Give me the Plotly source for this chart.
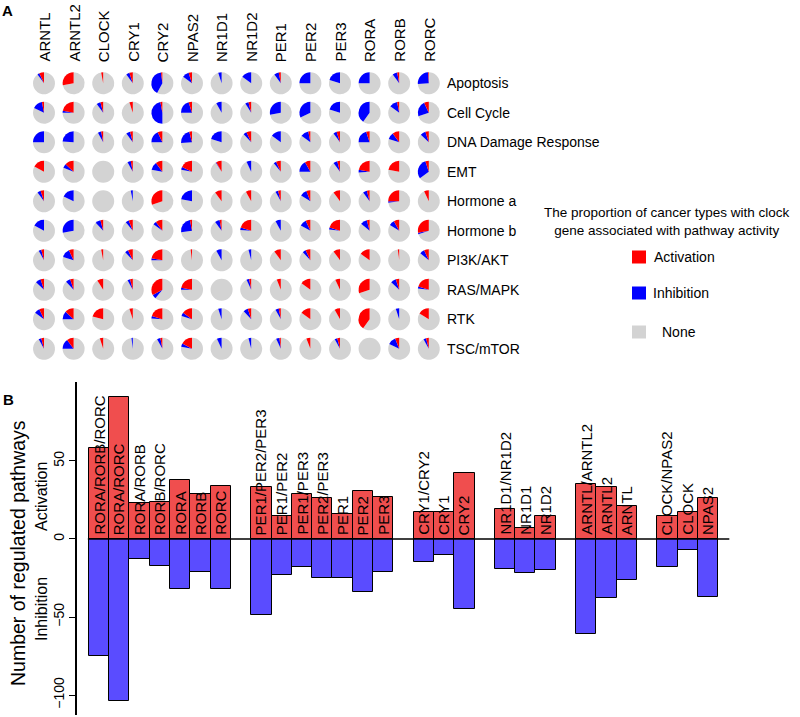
import plotly.graph_objects as go

# ---- panel A data: share of cancer types per gene / pathway ----
genes = ['ARNTL', 'ARNTL2', 'CLOCK', 'CRY1', 'CRY2', 'NPAS2', 'NR1D1', 'NR1D2',
         'PER1', 'PER2', 'PER3', 'RORA', 'RORB', 'RORC']
pathways = ['Apoptosis', 'Cell Cycle', 'DNA Damage Response', 'EMT', 'Hormone a',
            'Hormone b', 'PI3K/AKT', 'RAS/MAPK', 'RTK', 'TSC/mTOR']

# rows = pathways, columns = genes
pie_act = [
    [0.07, 0.28, 0.03, 0.05, 0.02, 0.05, 0.00, 0.00, 0.03, 0.00, 0.00, 0.00, 0.03, 0.01],
    [0.03, 0.22, 0.04, 0.05, 0.03, 0.05, 0.00, 0.04, 0.00, 0.00, 0.00, 0.00, 0.03, 0.07],
    [0.00, 0.00, 0.03, 0.04, 0.07, 0.04, 0.00, 0.07, 0.00, 0.03, 0.05, 0.05, 0.10, 0.05],
    [0.17, 0.13, 0.00, 0.03, 0.10, 0.18, 0.08, 0.00, 0.07, 0.08, 0.04, 0.22, 0.22, 0.05],
    [0.05, 0.00, 0.00, 0.00, 0.30, 0.00, 0.10, 0.08, 0.04, 0.06, 0.10, 0.04, 0.25, 0.07],
    [0.00, 0.00, 0.04, 0.06, 0.10, 0.03, 0.03, 0.20, 0.00, 0.07, 0.20, 0.04, 0.08, 0.28],
    [0.04, 0.07, 0.03, 0.07, 0.22, 0.02, 0.00, 0.00, 0.10, 0.07, 0.10, 0.15, 0.02, 0.07],
    [0.05, 0.05, 0.09, 0.04, 0.33, 0.22, 0.00, 0.03, 0.06, 0.15, 0.07, 0.30, 0.05, 0.20],
    [0.07, 0.13, 0.21, 0.05, 0.20, 0.15, 0.00, 0.05, 0.03, 0.15, 0.08, 0.40, 0.00, 0.16],
    [0.04, 0.10, 0.05, 0.00, 0.03, 0.17, 0.00, 0.00, 0.02, 0.06, 0.04, 0.00, 0.06, 0.04],
]
pie_inh = [
    [0.03, 0.00, 0.00, 0.05, 0.40, 0.10, 0.05, 0.15, 0.07, 0.25, 0.20, 0.25, 0.07, 0.25],
    [0.15, 0.03, 0.06, 0.00, 0.47, 0.20, 0.08, 0.05, 0.28, 0.32, 0.20, 0.40, 0.12, 0.23],
    [0.25, 0.24, 0.05, 0.06, 0.18, 0.22, 0.20, 0.05, 0.15, 0.12, 0.05, 0.20, 0.10, 0.08],
    [0.00, 0.06, 0.00, 0.05, 0.12, 0.04, 0.01, 0.07, 0.04, 0.17, 0.06, 0.04, 0.00, 0.30],
    [0.05, 0.18, 0.00, 0.03, 0.00, 0.22, 0.00, 0.00, 0.04, 0.10, 0.00, 0.06, 0.02, 0.00],
    [0.17, 0.28, 0.08, 0.05, 0.05, 0.24, 0.07, 0.04, 0.08, 0.10, 0.03, 0.10, 0.08, 0.02],
    [0.04, 0.13, 0.00, 0.05, 0.03, 0.00, 0.08, 0.04, 0.00, 0.05, 0.00, 0.00, 0.00, 0.07],
    [0.08, 0.07, 0.00, 0.04, 0.06, 0.03, 0.00, 0.04, 0.00, 0.00, 0.00, 0.00, 0.08, 0.03],
    [0.08, 0.12, 0.00, 0.00, 0.04, 0.05, 0.05, 0.07, 0.05, 0.00, 0.00, 0.00, 0.05, 0.00],
    [0.04, 0.15, 0.00, 0.02, 0.05, 0.05, 0.07, 0.04, 0.05, 0.00, 0.04, 0.00, 0.12, 0.04],
]

# ---- panel B data: number of regulated pathways ----
bar_names = ['RORA/RORB/RORC', 'RORA/RORC', 'RORA/RORB', 'RORB/RORC', 'RORA', 'RORB', 'RORC',
             'PER1/PER2/PER3', 'PER1/PER2', 'PER1/PER3', 'PER2/PER3', 'PER1', 'PER2', 'PER3',
             'CRY1/CRY2', 'CRY1', 'CRY2',
             'NR1D1/NR1D2', 'NR1D1', 'NR1D2',
             'ARNTL/ARNTL2', 'ARNTL2', 'ARNTL',
             'CLOCK/NPAS2', 'CLOCK', 'NPAS2']
group_sizes = [7, 7, 3, 3, 3, 3]
activation = [58, 91, 23, 24, 38, 29, 34,
              33, 15, 29, 26, 16, 31, 27,
              17, 17, 42,
              19, 7, 15,
              35, 33, 21,
              15, 17, 26]
inhibition = [-75, -104, -13, -17, -32, -21, -32,
              -49, -23, -18, -25, -25, -34, -21,
              -15, -10, -45,
              -19, -22, -20,
              -61, -38, -26,
              -18, -7, -37]

W, H = 800, 717
FONT = 'Liberation Sans, Arial, sans-serif'
RED, BLUE, GREY = '#FF0000', '#0000FF', '#D3D3D3'

fig = go.Figure()

# pie grid: activation sits just left of 12 o'clock, inhibition after it (anticlockwise)
x0, dx = 44, 29.6
y0, dy = 83.3, 29.5
rad = 11
annotations = []
for j, pw in enumerate(pathways):
    cy = y0 + dy * j
    for i, g in enumerate(genes):
        cx = x0 + dx * i
        a = pie_act[j][i]
        b = pie_inh[j][i]
        fig.add_trace(go.Pie(
            values=[max(1 - a - b, 0), b, a],
            labels=['None', 'Inhibition', 'Activation'],
            marker=dict(colors=[GREY, BLUE, RED], line=dict(width=0)),
            sort=False, direction='clockwise', rotation=0,
            textinfo='none', hoverinfo='label+percent', showlegend=False,
            domain=dict(x=[(cx - rad) / W, (cx + rad) / W],
                        y=[1 - (cy + rad) / H, 1 - (cy - rad) / H]),
        ))
    annotations.append(dict(x=445 / W, y=1 - cy / H, xref='paper', yref='paper',
                            text=pw, showarrow=False, xanchor='left', yanchor='middle',
                            font=dict(size=14, family=FONT, color='black')))

for i, g in enumerate(genes):
    annotations.append(dict(x=(x0 + dx * i) / W, y=1 - 64 / H, xref='paper', yref='paper',
                            text=g, showarrow=False, textangle=-90,
                            xanchor='center', yanchor='bottom',
                            font=dict(size=15, family=FONT, color='black')))

# legend of panel A
annotations.append(dict(x=667 / W, y=1 - 221.5 / H, xref='paper', yref='paper',
                        text='The proportion of cancer types with clock<br>gene associated with pathway activity',
                        showarrow=False, xanchor='center', yanchor='middle',
                        font=dict(size=13.5, family=FONT, color='black')))
shapes = []
for lab, col, ly, lx in [('Activation', RED, 257, 652), ('Inhibition', BLUE, 293, 651),
                         ('None', GREY, 332, 660)]:
    shapes.append(dict(type='rect', xref='paper', yref='paper',
                       x0=632 / W, x1=646 / W, y0=1 - (ly + 6.5) / H, y1=1 - (ly - 6.5) / H,
                       fillcolor=col, line=dict(width=0)))
    annotations.append(dict(x=lx / W, y=1 - ly / H, xref='paper', yref='paper', text=lab,
                            showarrow=False, xanchor='left', yanchor='middle',
                            font=dict(size=14, family=FONT, color='black')))

# panel labels
annotations.append(dict(x=0, y=1, xref='paper', yref='paper', text='<b>A</b>',
                        showarrow=False, xanchor='left', yanchor='top',
                        font=dict(size=15, family=FONT, color='black')))
annotations.append(dict(x=1 / W, y=1 - 389 / H, xref='paper', yref='paper', text='<b>B</b>',
                        showarrow=False, xanchor='left', yanchor='top',
                        font=dict(size=15, family=FONT, color='black')))

# bar positions: groups separated by one empty slot
positions = []
p = 0
for n in group_sizes:
    for k in range(n):
        positions.append(p)
        p += 1
    p += 1

fig.add_trace(go.Bar(x=positions, y=activation, width=1, marker_color='#F04E4E',
                     marker_line=dict(color='black', width=1), showlegend=False,
                     xaxis='x', yaxis='y', hovertext=bar_names, name='Activation'))
fig.add_trace(go.Bar(x=positions, y=inhibition, width=1, marker_color='#5A4CFF',
                     marker_line=dict(color='black', width=1), showlegend=False,
                     xaxis='x', yaxis='y', hovertext=bar_names, name='Inhibition'))

for xp, nm in zip(positions, bar_names):
    annotations.append(dict(x=xp, y=0, xref='x', yref='y', text=nm, showarrow=False,
                            textangle=-90, xanchor='center', yanchor='bottom', yshift=2,
                            font=dict(size=15, family=FONT, color='black')))

shapes.append(dict(type='line', xref='x', yref='y', x0=positions[0] - 0.55,
                   x1=positions[-1] + 1.05, y0=0, y1=0, line=dict(color='black', width=1.5)))

# axis titles
annotations.append(dict(x=18 / W, y=1 - 553 / H, xref='paper', yref='paper',
                        text='Number of regulated pathways', showarrow=False, textangle=-90,
                        xanchor='center', yanchor='middle',
                        font=dict(size=19.5, family=FONT, color='black')))
annotations.append(dict(x=41 / W, y=1 - 497 / H, xref='paper', yref='paper',
                        text='Activation', showarrow=False, textangle=-90,
                        xanchor='center', yanchor='middle',
                        font=dict(size=16, family=FONT, color='black')))
annotations.append(dict(x=41 / W, y=1 - 609 / H, xref='paper', yref='paper',
                        text='Inhibition', showarrow=False, textangle=-90,
                        xanchor='center', yanchor='middle',
                        font=dict(size=16, family=FONT, color='black')))

px0 = 99   # pixel centre of first bar
bw = 20.3  # pixel width of one bar
fig.update_layout(
    width=W, height=H, margin=dict(l=0, r=0, t=0, b=0),
    paper_bgcolor='white', plot_bgcolor='white',
    barmode='overlay', bargap=0,
    xaxis=dict(domain=[77 / W, 1], range=[(77 - px0) / bw, (W - px0) / bw],
               visible=False, fixedrange=True),
    yaxis=dict(domain=[1 - 715 / H, 1 - 382 / H], range=[-112.8, 100.6],
               tickvals=[-100, -50, 0, 50], tickangle=-90, ticks='outside', ticklen=6,
               tickcolor='black', showline=True, linecolor='black', linewidth=1.5,
               showgrid=False, zeroline=False,
               tickfont=dict(size=14, family=FONT, color='black')),
    annotations=annotations, shapes=shapes,
)

fig.write_html("out.html", config={'displayModeBar': False},
               post_script="document.body.style.margin='0px';document.body.style.overflow='hidden';")
